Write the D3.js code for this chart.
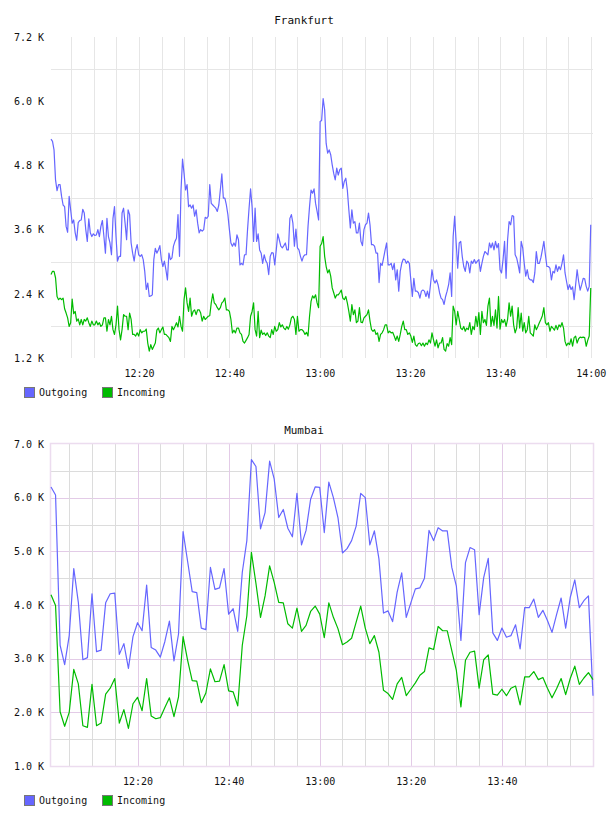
<!DOCTYPE html>
<html>
<head>
<meta charset="utf-8">
<script src="https://cdn.jsdelivr.net/npm/d3@7"></script>
<style>
body { margin: 0; background: #fff; }
text { font-family: "DejaVu Sans Mono", monospace; font-size: 10px; fill: #111; }
.title { font-size: 11px; }
</style>
</head>
<body>
<div id="charts"></div>
<script>
// ---- data ----
var seriesNames = ["Outgoing", "Incoming"];

// Frankfurt: one sample about every 20 s between these two times
var fraFirst = "12:00:30", fraLast = "14:00:00";
var fraOutgoing = [
5290,5250,5090,4530,4330,4440,4440,4220,4060,4030,
3660,3550,4220,3970,3720,3780,3540,3400,3730,3770,
3780,3980,3910,3600,3380,3800,3540,3470,3520,3490,
3500,3600,3470,3660,3770,3470,3160,3810,3470,3350,
3130,3810,4030,3470,3010,3100,3100,3910,4000,3720,
3410,3970,3880,3350,3160,3010,3220,3320,3130,3100,
3130,3040,2820,2480,2600,2350,2360,2380,3040,3250,
3160,3220,3300,3040,2910,3010,2850,2660,3160,3040,
3070,3290,3380,3440,3880,3100,4340,4920,4650,4340,
4440,4030,4060,4000,4060,3850,3970,3720,3540,3600,
3570,3600,3830,3810,3850,4440,4090,4060,4030,4000,
3940,4060,4340,4640,4190,4190,4060,3880,3600,3350,
3290,3350,3290,3500,3410,2940,2970,2940,3130,3130,
3600,4000,4360,4030,3380,4000,3380,3520,3220,3160,
2970,3130,3020,2970,2760,3100,3170,3160,2940,3220,
3520,3410,3290,3260,3300,3350,3220,3220,3810,3880,
3720,3290,3610,3260,3220,3100,3010,3100,3130,3130,
3660,4030,4340,4280,4360,4090,3940,3780,
5620,5640,6050,5840,5210,5030,5090,5000,4810,4650,
4530,4750,4620,4720,4750,4370,4500,4560,4340,3970,
3630,3970,3720,3750,3540,3540,3720,3380,3300,3600,
3690,3720,3910,3690,3320,3320,3290,3160,3160,2610,
2970,2930,3070,3220,3350,2940,2940,2970,2850,2970,
2660,2850,2450,2820,2970,3050,3040,2970,3010,2970,
2660,2350,2690,2450,2450,2420,2320,2450,2470,2450,
2350,2450,2320,2570,2850,2660,2600,2660,2570,2420,
2320,2290,2200,2350,2450,2570,2790,2350,3470,3850,
3350,2880,3350,3380,3100,2910,2820,3010,2970,2790,
3010,2970,3040,2970,3010,3040,2820,2970,3100,3190,
3160,3130,3350,3260,3350,3220,3380,3260,3340,2850,
2790,3040,3380,2690,3410,3750,3690,3860,3850,3130,
3070,2940,2790,3380,3260,2970,2730,2850,2690,2660,
2660,2610,2790,3190,2970,2970,3070,3220,3380,3130,
2910,2910,2880,2660,2820,2790,2940,2820,2910,2850,
2970,3130,2790,2630,2480,2570,2480,2530,2290,2570,
2850,2630,2470,2570,2690,2680,2540,2450,2540,3690
];
var fraIncoming = [
2760,2820,2820,2700,2350,2290,2320,2290,2320,2120,
2040,1950,1790,1860,2300,2030,2070,1890,1930,1820,
1920,1820,1920,1890,1950,1860,1790,1890,1820,1820,
1890,1820,1860,1790,1820,1950,1950,1700,1920,1820,
1980,1730,1640,1820,2170,1730,1540,1730,2010,1980,
1980,1730,2040,1920,1640,1640,1610,1670,1610,1730,
1670,1700,1700,1740,1480,1330,1450,1360,1420,1480,
1720,1760,1670,1730,1780,1640,1640,1610,1580,1510,
1790,1730,1790,1860,1780,1980,1790,1700,2290,2510,
2230,2070,2320,1980,2070,2100,2010,2100,2100,2040,
1890,1980,1920,1950,1980,1990,2230,2400,2230,2200,
2140,2100,2140,2230,2260,2320,2100,2100,2070,1920,
1670,1720,1670,1760,1760,1670,1640,1510,1480,1530,
1580,1640,1980,2070,2230,1730,1610,2070,1580,1720,
1640,1670,1620,1670,1610,1580,1730,1640,1790,1700,
1730,1860,1780,1820,1760,1730,1790,1740,1820,1950,
1980,1920,1640,1980,1700,1730,1730,1700,1640,1680,
1610,1980,2260,2360,2320,2380,2230,2140,
3290,3340,3470,3100,2910,2790,2850,2730,2510,2420,
2320,2380,2380,2420,2470,2320,2290,2350,2230,2070,
1890,2200,2010,2100,1860,1890,2140,1870,1860,1950,
1980,2010,2100,1890,1730,1700,1730,1640,1670,1510,
1640,1670,1730,1820,1820,1670,1700,1670,1680,1610,
1530,1610,1510,1640,1790,1890,1730,1730,1640,1670,
1610,1490,1610,1450,1420,1470,1480,1430,1480,1420,
1480,1450,1540,1480,1670,1540,1420,1540,1390,1480,
1480,1580,1360,1330,1470,1420,1580,1450,2170,2070,
1820,2070,1920,1760,1730,1790,1700,1760,1730,1860,
1640,1790,1730,1980,1790,2050,1640,2070,1860,1920,
1810,2170,2320,1790,1980,1810,2100,1760,2350,1740,
1920,1860,1920,1790,1920,2230,1980,2170,1820,1670,
1760,2140,1760,2040,1700,1860,1670,1730,1980,1670,
1640,1610,1820,1730,1790,1860,1920,1990,2140,1860,
1820,1860,1700,1790,1760,1720,1810,1730,1820,1780,
1860,1760,1510,1430,1480,1450,1560,1420,1580,1610,
1480,1560,1590,1580,1590,1580,1420,1530,1610,2510
];

// Mumbai: one sample per minute
var mumFirst = "12:01", mumLast = "14:00";
var mumOutgoing = [
6200,6050,3250,2890,3430,4680,4050,2980,3020,4210,
3130,3160,4040,4210,4220,3080,3280,2820,3410,3670,
3520,4370,3210,3160,3030,3320,3700,2960,3460,5370,
4810,4250,4230,3570,3540,4700,4290,4320,4680,3830,
3930,3510,4610,5200,6710,6580,5420,5720,6680,6350,
5630,5780,5430,5270,6080,5120,5390,5970,6200,6190,
5350,6290,6000,5630,4970,5050,5200,5470,6080,6000,
5120,5380,4860,3850,3890,3690,4240,4600,3770,4040,
4300,4320,4500,5390,5200,5440,5380,5380,4700,4350,
3340,4790,5070,5030,3820,4510,4870,3480,3340,3570,
3400,3430,3630,3180,3950,3950,4110,3770,3900,3710,
3490,3820,4130,3570,4140,4470,3950,4080,4170,2310
];
var mumIncoming = [
4190,3990,2010,1740,2000,2800,2530,1750,1720,2520,
1750,1800,2340,2450,2630,1800,2050,1700,2160,2280,
2030,2630,1930,1880,1900,2090,2270,1920,2290,3410,
2970,2590,2580,2180,2360,2810,2570,2580,2890,2400,
2380,2120,3250,3800,4980,4400,3770,4170,4730,4420,
4050,4040,3650,3570,3940,3510,3620,3880,3980,3830,
3390,4040,3770,3560,3260,3310,3380,3680,3980,3570,
3280,3430,3120,2410,2350,2240,2530,2650,2310,2430,
2550,2690,2760,3200,3170,3600,3520,3520,3150,2780,
2100,2970,3120,3140,2450,2980,3070,2340,2320,2430,
2310,2450,2490,2140,2660,2660,2760,2610,2650,2450,
2270,2440,2630,2330,2630,2860,2520,2640,2740,2610
];

var fraYTicks = [1200, 2400, 3600, 4800, 6000, 7200];
var fraYGrid = [1800, 3000, 4200, 5400, 6600];
var mumYTicks = [1000, 2000, 3000, 4000, 5000, 6000, 7000];
var mumYGrid = [1500, 2000, 2500, 3000, 3500, 4000, 4500, 5000, 5500, 6000, 6500];
var fraTimeTicks = ["12:20", "12:40", "13:00", "13:20", "13:40", "14:00"];
var mumTimeTicks = ["12:20", "12:40", "13:00", "13:20", "13:40"];

// ---- layout ----
var dim = { width: 608, height: 816, left: 51, right: 593 };
var colors = ["#6666ff", "#00bb00"];

var charts = [
  { title: "Frankfurt", titleY: 24, top: 37, bottom: 358, legendY: 387,
    xFrom: "12:00:30", xTo: "14:00:30", gridFrom: "12:05", gridTo: "14:00",
    first: fraFirst, last: fraLast, series: [fraOutgoing, fraIncoming],
    yTicks: fraYTicks, yGrid: fraYGrid, timeTicks: fraTimeTicks, framed: false },
  { title: "Mumbai", titleY: 434, top: 444, bottom: 766, legendY: 795,
    xFrom: "12:01", xTo: "14:00", gridFrom: "12:05", gridTo: "13:55",
    first: mumFirst, last: mumLast, series: [mumOutgoing, mumIncoming],
    yTicks: mumYTicks, yGrid: mumYGrid, timeTicks: mumTimeTicks, framed: true }
];

function toDate(s) {
  var p = s.split(':').map(Number);
  return new Date(Date.UTC(1970, 0, 1, p[0], p[1], p[2] || 0));
}

function spread(values, first, last) {
  var t0 = +toDate(first), t1 = +toDate(last);
  var step = (t1 - t0) / (values.length - 1);
  return values.map((v, i) => ({ t: new Date(t0 + i * step), v: v }));
}

var svg = d3.select("#charts").append('svg')
  .attr('width', dim.width).attr('height', dim.height);

function drawChart(c) {
  var x = d3.scaleUtc()
    .domain([toDate(c.xFrom), toDate(c.xTo)])
    .range([dim.left, dim.right]);
  var y = d3.scaleLinear()
    .domain([c.yTicks[0], c.yTicks[c.yTicks.length - 1]])
    .range([c.bottom, c.top]);

  var g = svg.append('g');
  var pink = "#e3cbe7", gray = c.framed ? "#dcdcdc" : "#e6e6e6";

  // horizontal grid
  g.selectAll('.hgrid').data(c.yGrid).enter().append('line')
    .attr('x1', dim.left).attr('x2', dim.right)
    .attr('y1', d => Math.round(y(d)) + .5).attr('y2', d => Math.round(y(d)) + .5)
    .attr('stroke', d => c.framed && d % 1000 == 0 ? pink : gray);

  // vertical grid every 5 minutes
  var times = d3.utcMinute.every(5).range(toDate(c.gridFrom), new Date(+toDate(c.gridTo) + 1000));
  g.selectAll('.vgrid').data(times).enter().append('line')
    .attr('x1', d => Math.round(x(d)) + .5).attr('x2', d => Math.round(x(d)) + .5)
    .attr('y1', c.top).attr('y2', c.bottom)
    .attr('stroke', d => c.framed && d.getUTCMinutes() % 20 == 0 ? pink : gray);

  if (c.framed) {
    g.append('rect')
      .attr('x', dim.left - .5).attr('y', c.top - .5)
      .attr('width', dim.right - dim.left + 1).attr('height', c.bottom - c.top + 1)
      .attr('fill', 'none').attr('stroke', '#ecdcef').attr('stroke-width', 1.5);
  }

  // lines
  var line = d3.line().x(d => x(d.t)).y(d => y(d.v));
  c.series.forEach(function(values, i) {
    g.append('path')
      .datum(spread(values, c.first, c.last))
      .attr('d', line)
      .attr('fill', 'none')
      .attr('stroke', colors[i])
      .attr('stroke-width', 1.2)
      .attr('stroke-linejoin', 'round');
  });

  // axes (labels only)
  var yAxis = d3.axisLeft(y).tickValues(c.yTicks)
    .tickFormat(d => d3.format(".1f")(d / 1000) + " K")
    .tickSize(0).tickPadding(7);
  var xAxis = d3.axisBottom(x).tickValues(c.timeTicks.map(toDate))
    .tickFormat(d3.utcFormat("%H:%M"))
    .tickSize(0).tickPadding(12);

  var ya = g.append('g').attr('transform', `translate(${dim.left},0)`).call(yAxis);
  var xa = g.append('g').attr('transform', `translate(0,${c.bottom})`).call(xAxis);
  [ya, xa].forEach(function(a) {
    a.select('.domain').remove();
    a.selectAll('text').attr('fill', '#111').style('font-family', '"DejaVu Sans Mono", monospace').style('font-size', '10px');
  });

  // title
  svg.append('text').attr('class', 'title')
    .attr('x', dim.width / 2).attr('y', c.titleY)
    .attr('text-anchor', 'middle')
    .text(c.title);

  // legend
  var lx = [24, 102];
  seriesNames.forEach(function(name, i) {
    svg.append('rect')
      .attr('x', lx[i] + .5).attr('y', c.legendY + .5)
      .attr('width', 10).attr('height', 10)
      .attr('fill', colors[i]).attr('stroke', '#777');
    svg.append('text')
      .attr('x', lx[i] + 15).attr('y', c.legendY + 9)
      .text(name);
  });
}

charts.forEach(drawChart);
</script>
</body>
</html>
